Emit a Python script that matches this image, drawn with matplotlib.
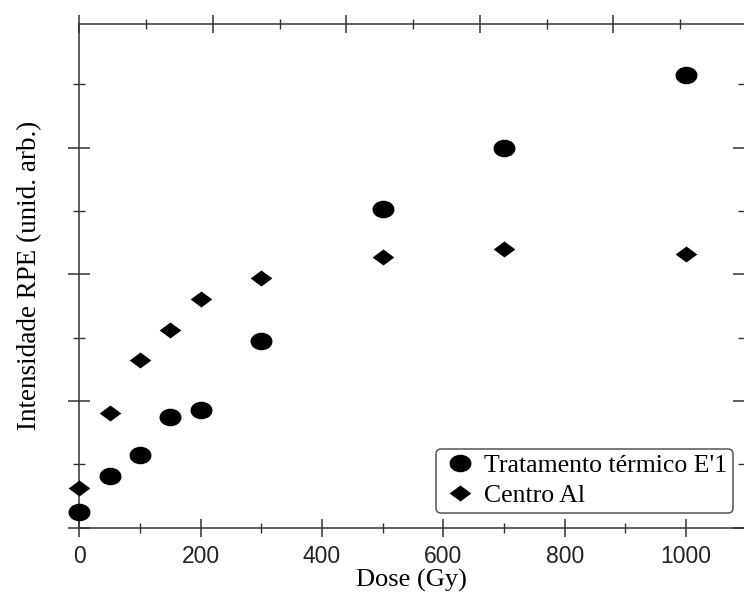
import matplotlib
matplotlib.use("Agg")
import matplotlib.pyplot as plt
from matplotlib.markers import MarkerStyle
from matplotlib.ticker import MultipleLocator, NullFormatter
from matplotlib.transforms import Affine2D

# dose values (Gy) and EPR intensities (arb. units)
dose = [0, 50, 100, 150, 200, 300, 500, 700, 1000]
e1_thermal = [0.25, 0.81, 1.15, 1.74, 1.86, 2.95, 5.04, 6.00, 7.15]
al_center = [0.62, 1.81, 2.65, 3.12, 3.61, 3.95, 4.28, 4.40, 4.33]

label_e1 = "Tratamento térmico E'1"
label_al = "Centro Al"

serif = ["Liberation Serif", "DejaVu Serif"]
sans = ["Liberation Sans", "DejaVu Sans"]

fig = plt.figure(figsize=(7.44, 5.92), dpi=100)
ax = fig.add_axes([0.1066, 0.1088, 0.8934, 0.8507])

# slightly squashed markers, like the scanned original
circ = MarkerStyle("o", transform=Affine2D().scale(1.0, 0.8))
diam = [(-1, 0), (0, 0.74), (1, 0), (0, -0.74)]

ax.plot(dose, e1_thermal, linestyle="none", marker=circ, markersize=15.8,
        color="black", markeredgewidth=0, label=label_e1, clip_on=False, zorder=3)
ax.plot(dose, al_center, linestyle="none", marker=diam, markersize=15.6,
        color="black", markeredgewidth=0, label=label_al, clip_on=False, zorder=3)

ax.set_xlim(0, 1095.6)
ax.set_ylim(0, 7.956)

ax.xaxis.set_major_locator(MultipleLocator(200))
ax.xaxis.set_minor_locator(MultipleLocator(100))
ax.yaxis.set_major_locator(MultipleLocator(2))
ax.yaxis.set_minor_locator(MultipleLocator(1))
ax.yaxis.set_major_formatter(NullFormatter())

for s in ax.spines.values():
    s.set_linewidth(1.1)
    s.set_color("#333333")
ax.spines["right"].set_visible(False)

ax.tick_params(axis="x", which="major", direction="inout", length=13.5, width=1.1,
               color="#333333", top=False, pad=6, labelsize=16.5)
ax.tick_params(axis="x", which="minor", direction="inout", length=6.5, width=1.0,
               color="#333333", top=False)
ax.tick_params(axis="y", which="major", direction="inout", length=16, width=1.1,
               color="#333333", right=True)
ax.tick_params(axis="y", which="minor", direction="inout", length=9, width=1.0,
               color="#333333", right=True)
for t in ax.get_xticklabels():
    t.set_family(sans)
    t.set_color("#222222")

# top axis ticks follow a slightly different spacing in the original
ax2 = ax.twiny()
ax2.set_xlim(0, 995.8)
ax2.xaxis.set_major_locator(MultipleLocator(200))
ax2.xaxis.set_minor_locator(MultipleLocator(100))
ax2.xaxis.set_major_formatter(NullFormatter())
for s in ax2.spines.values():
    s.set_visible(False)
ax2.tick_params(axis="x", which="major", direction="inout", length=13.5, width=1.1,
                color="#333333", top=True, bottom=False, labeltop=False)
ax2.tick_params(axis="x", which="minor", direction="inout", length=6.5, width=1.0,
                color="#333333", top=True, bottom=False)

ax.set_xlabel("Dose (Gy)", family=serif, fontsize=19, labelpad=0.5)
ax.set_ylabel("Intensidade RPE (unid. arb.)", family=serif, fontsize=19.5)
ax.yaxis.set_label_coords(-0.056, 0.5)

leg = ax.legend(loc="lower right", bbox_to_anchor=(0.9834, 0.029),
                borderaxespad=0, prop={"family": serif, "size": 18.5},
                handlelength=1.4, handletextpad=0.25, borderpad=0.22,
                labelspacing=0.28, fancybox=True, framealpha=1)
leg.get_frame().set_edgecolor("#555555")
leg.get_frame().set_linewidth(1.1)
leg.set_zorder(5)

fig.savefig("out.png", dpi=100)
